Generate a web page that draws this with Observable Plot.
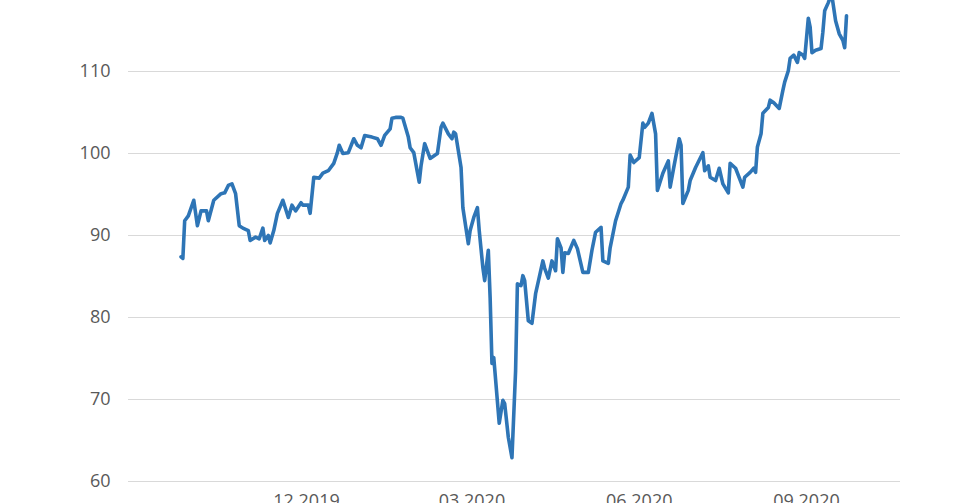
<!DOCTYPE html>
<html>
<head>
<meta charset="utf-8">
<script src="https://cdn.jsdelivr.net/npm/d3@7"></script>
<script src="https://cdn.jsdelivr.net/npm/@observablehq/plot@0.6"></script>
<style>
  html, body { margin: 0; padding: 0; background: #fff; overflow: hidden; }
  #chart svg { display: block; }
</style>
</head>
<body>
<div id="chart"></div>
<script>
const dates = [
  "2019-09-23","2019-09-24","2019-09-25","2019-09-27","2019-09-30","2019-10-02","2019-10-04","2019-10-07",
  "2019-10-08","2019-10-11","2019-10-15","2019-10-17","2019-10-19","2019-10-21","2019-10-23","2019-10-25",
  "2019-10-27","2019-10-30","2019-10-31","2019-11-03","2019-11-05","2019-11-07","2019-11-08","2019-11-10",
  "2019-11-11","2019-11-13","2019-11-15","2019-11-18","2019-11-21","2019-11-23","2019-11-25","2019-11-28",
  "2019-11-29","2019-12-02","2019-12-03","2019-12-05","2019-12-08","2019-12-10","2019-12-13","2019-12-16",
  "2019-12-18","2019-12-19","2019-12-21","2019-12-24","2019-12-27","2019-12-29","2019-12-31","2020-01-02",
  "2020-01-06","2020-01-09","2020-01-11","2020-01-13","2020-01-16","2020-01-17","2020-01-19","2020-01-22",
  "2020-01-23","2020-01-26","2020-01-27","2020-01-29","2020-01-31","2020-02-01","2020-02-02","2020-02-04",
  "2020-02-07","2020-02-11","2020-02-13","2020-02-14","2020-02-17","2020-02-19","2020-02-20","2020-02-21",
  "2020-02-24","2020-02-25","2020-02-28","2020-02-29","2020-03-02","2020-03-04","2020-03-05","2020-03-07",
  "2020-03-08","2020-03-10","2020-03-11","2020-03-12","2020-03-13","2020-03-16","2020-03-18","2020-03-19",
  "2020-03-21","2020-03-23","2020-03-25","2020-03-26","2020-03-28","2020-03-29","2020-03-30","2020-04-01",
  "2020-04-03","2020-04-05","2020-04-07","2020-04-09","2020-04-10","2020-04-12","2020-04-14","2020-04-16",
  "2020-04-17","2020-04-19","2020-04-20","2020-04-21","2020-04-23","2020-04-26","2020-04-28","2020-05-01",
  "2020-05-04","2020-05-06","2020-05-08","2020-05-11","2020-05-12","2020-05-15","2020-05-16","2020-05-19",
  "2020-05-22","2020-05-23","2020-05-26","2020-05-27","2020-05-29","2020-06-01","2020-06-03","2020-06-04",
  "2020-06-06","2020-06-08","2020-06-10","2020-06-11","2020-06-14","2020-06-17","2020-06-18","2020-06-20",
  "2020-06-23","2020-06-24","2020-06-25","2020-06-28","2020-06-29","2020-07-02","2020-07-06","2020-07-07",
  "2020-07-09","2020-07-10","2020-07-13","2020-07-15","2020-07-17","2020-07-20","2020-07-21","2020-07-24",
  "2020-07-28","2020-07-29","2020-08-01","2020-08-03","2020-08-04","2020-08-05","2020-08-07","2020-08-08",
  "2020-08-11","2020-08-12","2020-08-14","2020-08-17","2020-08-19","2020-08-20","2020-08-22","2020-08-23",
  "2020-08-25","2020-08-27","2020-08-28","2020-08-30","2020-08-31","2020-09-02","2020-09-03","2020-09-04",
  "2020-09-06","2020-09-09","2020-09-10","2020-09-11","2020-09-13","2020-09-14","2020-09-15","2020-09-17",
  "2020-09-19","2020-09-21","2020-09-22","2020-09-23"
];
const values = [
  87.4, 87.2, 91.8, 92.4, 94.3, 91.2, 93.0, 93.0,
  91.8, 94.3, 95.1, 95.2, 96.1, 96.3, 95.1, 91.2,
  90.9, 90.6, 89.4, 89.8, 89.6, 90.9, 89.4, 90.0,
  89.1, 90.6, 92.7, 94.3, 92.2, 93.7, 93.0, 94.0,
  93.7, 93.7, 92.7, 97.1, 97.0, 97.6, 97.9, 98.8,
  100.1, 101.0, 100.0, 100.1, 101.8, 101.0, 100.7, 102.2,
  102.0, 101.8, 101.0, 102.2, 103.0, 104.3, 104.4, 104.4,
  104.3, 102.0, 100.7, 100.1, 97.7, 96.5, 98.5, 101.2,
  99.4, 100.0, 103.2, 103.7, 102.4, 101.8, 102.6, 102.4,
  98.3, 93.4, 89.0, 90.6, 92.2, 93.4, 90.6, 86.1,
  84.5, 88.2, 82.4, 74.4, 75.1, 67.1, 69.9, 69.5,
  65.4, 62.9, 73.5, 84.1, 83.9, 85.1, 84.5, 79.6,
  79.3, 82.9, 84.9, 86.9, 86.0, 84.8, 86.9, 85.7,
  89.6, 88.5, 85.5, 87.9, 87.8, 89.4, 88.4, 85.5,
  85.5, 88.2, 90.4, 91.0, 86.9, 86.6, 88.5, 91.8,
  93.9, 94.3, 95.9, 99.8, 98.9, 99.5, 103.7, 103.2,
  103.7, 104.9, 102.4, 95.5, 97.6, 99.1, 95.9, 98.3,
  101.8, 101.0, 93.9, 95.5, 96.7, 98.3, 100.1, 97.9,
  98.5, 97.1, 96.7, 98.2, 96.3, 95.2, 98.8, 98.2,
  95.9, 97.1, 97.7, 98.2, 97.7, 100.8, 102.4, 104.9,
  105.6, 106.5, 106.2, 105.5, 107.7, 108.7, 110.1, 111.6,
  112.0, 111.1, 112.3, 112.0, 111.6, 116.5, 115.4, 112.3,
  112.6, 112.8, 114.8, 117.4, 118.4, 119.0, 119.2, 116.2,
  114.6, 113.8, 112.9, 116.8
];
const yTicks = [60, 70, 80, 90, 100, 110];
const xTickLabels = ["2019-12-01", "2020-03-01", "2020-06-01", "2020-09-01"];

const data = dates.map((d, i) => ({date: new Date(d + "T00:00:00Z"), value: values[i]}));
const xTicks = xTickLabels.map(d => new Date(d + "T00:00:00Z"));
const fmt = d3.utcFormat("%m.%Y");

const chart = Plot.plot({
  width: 962,
  height: 503,
  marginLeft: 128,
  marginRight: 62,
  marginTop: 0,
  marginBottom: 22,
  style: {fontFamily: "'Open Sans', sans-serif", fontSize: "18px", color: "#595959", background: "#fff"},
  x: {type: "utc", domain: [xTicks[0], xTicks[3]], range: [306, 806]},
  y: {domain: [60, 110], range: [481, 71]},
  marks: [
    Plot.ruleY(yTicks, {stroke: "#d9d9d9", strokeWidth: 1.2}),
    Plot.axisY(yTicks, {anchor: "left", tickSize: 0, tickPadding: 18, label: null, fill: "#595959", fontSize: 18}),
    Plot.axisX(xTicks, {anchor: "bottom", tickSize: 0, tickPadding: 13, label: null, tickFormat: fmt, fill: "#595959", fontSize: 18}),
    Plot.line(data, {x: "date", y: "value", stroke: "#2e75b6", strokeWidth: 3.6, strokeLinejoin: "round", strokeLinecap: "round"})
  ]
});
document.getElementById("chart").appendChild(chart);
</script>
</body>
</html>
